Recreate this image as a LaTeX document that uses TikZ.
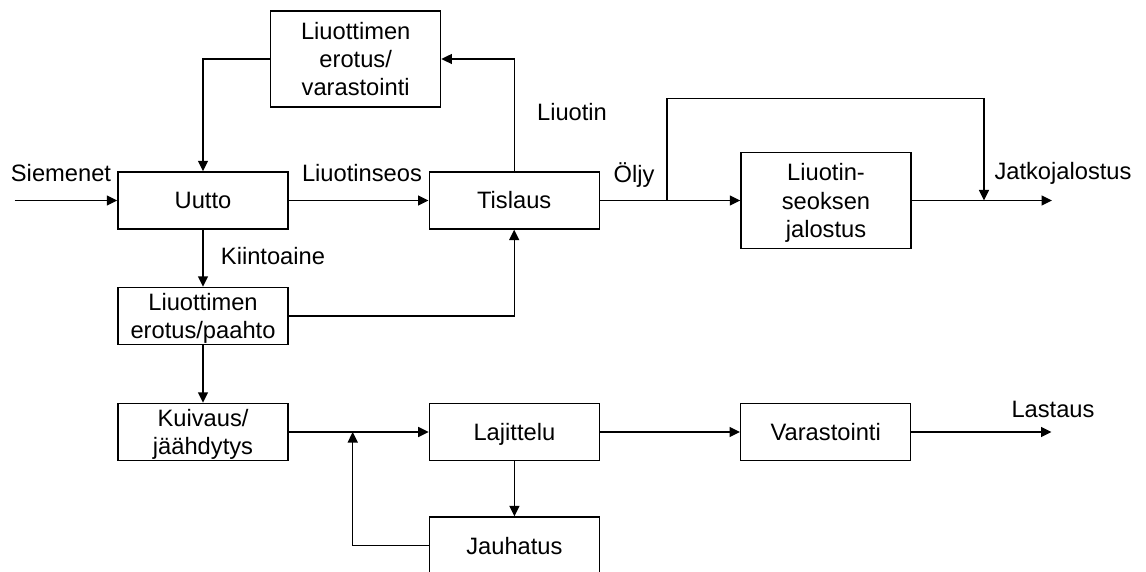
\documentclass[tikz,border=0pt]{standalone}
\usepackage{fontspec}
\setmainfont{Liberation Sans}
\usetikzlibrary{arrows.meta}
\begin{document}
\begin{tikzpicture}[x=1pt,y=-1pt,
  every node/.style={font=\fontsize{23.7}{28.2}\selectfont, inner sep=0pt},
  box/.style={draw, line width=1.4pt, minimum width=170pt, minimum height=57pt, align=center},
  tallbox/.style={box, minimum height=96pt},
  oneline/.style={text height=17pt, text depth=0pt},
  lbl/.style={anchor=base},
  flow/.style={line width=1.4pt},
  arr/.style={flow, -{Triangle[length=10.5pt,width=10pt]}}]
\clip (0,0) rectangle (1146,572);
\fill[white] (0,0) rectangle (1146,572);

% process boxes
\node[tallbox] (sep) at (355.7,59) {Liuottimen\\erotus/\\\smash{varastointi}};
\node[box,oneline] (uutto) at (203,200.5) {Uutto};
\node[box,oneline] (tis) at (514.2,200.5) {Tislaus};
\node[tallbox] (jal) at (826,200.5) {Liuotin-\\seoksen\\\smash{jalostus}};
\node[box] (paahto) at (203,316) {Liuottimen\\\smash{erotus/paahto}};
\node[box] (kuiv) at (203,432) {Kuivaus/\\\smash{jäähdytys}};
\node[box,oneline] (laj) at (514.4,432) {Lajittelu};
\node[box,oneline] (var) at (825.7,432) {Varastointi};
\node[box,oneline] (jauh) at (514.4,545.5) {Jauhatus};

% free ends and junctions
\coordinate (in) at (14.5,200.5);
\coordinate (oljy) at (667,200.5);
\coordinate (over) at (984,98.3);
\coordinate (jat) at (984,200.5);
\coordinate (jatout) at (1052,200.5);
\coordinate (mix) at (352.7,432);
\coordinate (lastout) at (1051.5,432);

% connectors
\draw[arr] (in) -- (uutto.west);
\draw[arr] (sep.west) -| (uutto.north);
\draw[arr] (uutto.east) -- (tis.west);
\draw[arr] (tis.north) |- (sep.east);
\draw[arr] (uutto.south) -- (paahto.north);
\draw[arr] (paahto.east) -| (tis.south);
\draw[flow] (tis.east) -- (oljy);
\draw[arr] (oljy) -- (jal.west);
\draw[arr] (oljy) |- (over) -- (jat);
\draw[arr] (jal.east) -- (jatout);
\draw[arr] (paahto.south) -- (kuiv.north);
\draw[arr] (kuiv.east) -- (laj.west);
\draw[arr] (jauh.west) -| (mix);
\draw[arr] (laj.south) -- (jauh.north);
\draw[arr] (laj.east) -- (var.west);
\draw[arr] (var.east) -- (lastout);

% stream labels
\node[lbl] (l1) at (61,181.7) {Siemenet};
\node[lbl] (l2) at (362,181.7) {Liuotinseos};
\node[lbl] (l3) at (273,265) {Kiintoaine};
\node[lbl] (l4) at (572,120.7) {Liuotin};
\node[lbl] (l5) at (634,182.7) {Öljy};
\node[lbl] (l6) at (1063,180) {Jatkojalostus};
\node[lbl] (l7) at (1053,417.3) {Lastaus};
\end{tikzpicture}
\end{document}
